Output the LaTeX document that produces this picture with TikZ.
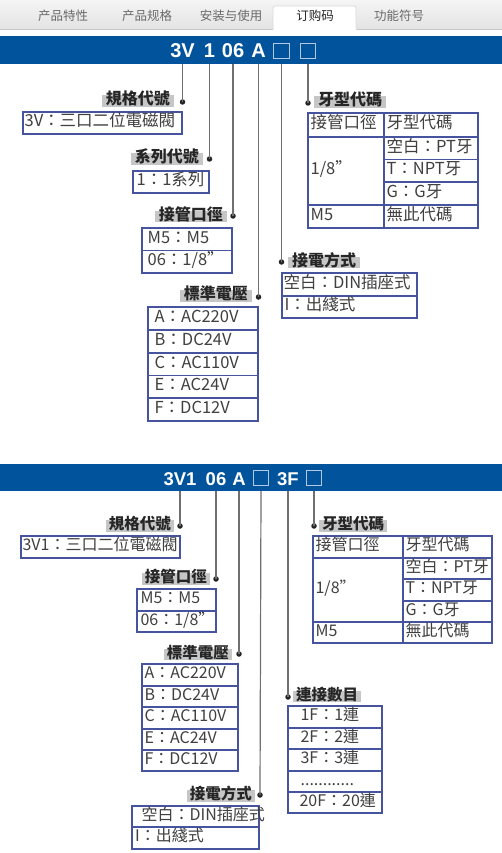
\documentclass[tikz,border=0pt]{standalone}
\usepackage{fontspec}
\setmainfont{Noto Sans CJK TC}
\newfontfamily\scfont{Noto Sans CJK SC}
\newfontfamily\hdrfont{Liberation Sans}
\usetikzlibrary{fit}
\definecolor{barblue}{HTML}{01539C}
\definecolor{cellc}{HTML}{4654A0}
\definecolor{labbg}{HTML}{C6C6C6}
\definecolor{connc}{HTML}{707070}
\definecolor{txt}{HTML}{404040}
\definecolor{sqc}{HTML}{B4C8E2}
\definecolor{tabgray}{HTML}{6A6A6A}
\newcommand\cellat[7]{%
  \node[cellbox, fit={(#2,#3) (#4,#5)}] (#1) {};
  \node[celltext, anchor=west] (#1t) at ([xshift=#6pt]#1.west) {#7};}
\begin{document}
\begin{tikzpicture}[x=1pt,y=-1pt,
  tabtxt/.style={font=\scfont\fontsize{12.5}{14}\selectfont, text=tabgray, inner sep=0},
  hdr/.style={font=\hdrfont\bfseries\fontsize{20}{22}\selectfont, text=white, inner sep=0, anchor=base},
  hdrb/.style={hdr, font=\hdrfont\bfseries\fontsize{18.5}{20}\selectfont},
  sq/.style={draw=sqc, line width=1pt, minimum size=15.5pt, inner sep=0},
  conn/.style={draw=connc, line width=1.2pt},
  dotn/.style={circle, fill=black!85, inner sep=0, minimum size=5.5pt},
  lab/.style={fill=labbg, inner xsep=4pt, inner ysep=0, text height=0.95em, text depth=0.18em,
    font=\bfseries\fontsize{16}{18}\selectfont, text=black!85},
  labb/.style={lab, inner xsep=3pt, font=\bfseries\fontsize{15.5}{17}\selectfont},
  cellbox/.style={draw=cellc, line width=1.2pt, inner sep=0},
  ctbase/.style={inner sep=0, text height=0.88em, text depth=0.12em, text=txt},
  celltext/.style={ctbase, font=\fontsize{16.5}{18}\selectfont}
]
\useasboundingbox (0,0) rectangle (502,853);
\fill[white] (0,0) rectangle (502,853);
% tab strip
\shade[top color=white!96!black, bottom color=white!89!black] (0,0) rectangle (502,29);
\draw[white!78!black, line width=1pt] (0,29.5) -- (502,29.5);
\draw[fill=white, draw=white!85!black, line width=0.8pt, rounded corners=2pt] (273,30) -- (273,6) -- (356,6) -- (356,30);
\fill[white] (273.5,28.5) rectangle (355.5,31);
\node[tabtxt] (tab1) at (63,16) {产品特性};
\node[tabtxt] (tab2) at (147,16) {产品规格};
\node[tabtxt] (tab3) at (231,16) {安装与使用};
\node[tabtxt, text=black!85] (tab4) at (315,16) {订购码};
\node[tabtxt] (tab5) at (399,16) {功能符号};

% ================= section 1 =================
\node[fill=barblue, inner sep=0, fit={(0,36) (502,64)}] (bar1) {};
\node[hdr] (h1a) at (182.5,57.7) {3V};
\node[hdr] (h1b) at (209.5,57.7) {1};
\node[hdr] (h1c) at (233,57.7) {06};
\node[hdr] (h1d) at (258.5,57.7) {A};
\node[sq] (h1e) at (281.5,51) {};
\node[sq] (h1f) at (308,51) {};

\node[dotn] (d11) at (182.5,102) {};
\node[dotn] (d12) at (209.5,159) {};
\node[dotn] (d13) at (233,216) {};
\node[dotn] (d14) at (258.5,297) {};
\node[dotn] (d15) at (281.5,262) {};
\node[dotn] (d16) at (308,103) {};
\draw[conn] (h1a |- bar1.south) -- (d11.center);
\draw[conn] (h1b |- bar1.south) -- (d12.center);
\draw[conn] (h1c |- bar1.south) -- (d13.center);
\draw[conn] (h1d |- bar1.south) -- (d14.center);
\draw[conn] (h1e |- bar1.south) -- (d15.center);
\draw[conn] (h1f |- bar1.south) -- (d16.center);

\node[lab, anchor=east] (l11) at (174,101) {規格代號};
\node[lab, anchor=east] (l12) at (203,159) {系列代號};
\node[lab, anchor=east] (l13) at (227,216.5) {接管口徑};
\node[lab, anchor=east] (l14) at (252,296) {標準電壓};
\node[lab, anchor=west] (l15) at (288,262.5) {接電方式};
\node[lab, anchor=west] (l16) at (314,102) {牙型代碼};

\cellat{a1}{23}{112}{182}{134}{2}{3V：三口二位電磁閥}
\cellat{a2}{133}{171}{209}{193}{4}{1：1系列}
\cellat{a3r1}{142}{228}{232}{250.5}{6}{M5：M5}
\cellat{a3r2}{142}{250.5}{232}{273}{6}{06：1/8"}
\cellat{a4r1}{148}{307}{258}{330}{7}{A：AC220V}
\cellat{a4r2}{148}{330}{258}{353}{7}{B：DC24V}
\cellat{a4r3}{148}{353}{258}{375.5}{7}{C：AC110V}
\cellat{a4r4}{148}{375.5}{258}{398}{7}{E：AC24V}
\cellat{a4r5}{148}{398}{258}{421}{7}{F：DC12V}
\cellat{a5r1}{282}{273}{417}{296}{2}{空白：DIN插座式}
\cellat{a5r2}{282}{296}{417}{318}{3}{I：出綫式}
\cellat{a6h1}{308}{113}{384}{137}{3}{接管口徑}
\cellat{a6h2}{384}{113}{478}{137}{3}{牙型代碼}
\cellat{a6m}{308}{137}{384}{205}{3}{1/8"}
\cellat{a6r1}{384}{137}{478}{159.5}{3}{空白：PT牙}
\cellat{a6r2}{384}{159.5}{478}{182}{3}{T：NPT牙}
\cellat{a6r3}{384}{182}{478}{205}{3}{G：G牙}
\cellat{a6b1}{308}{205}{384}{228}{3}{M5}
\cellat{a6b2}{384}{205}{478}{228}{3}{無此代碼}

% ================= section 2 =================
\begin{scope}[celltext/.style={ctbase, font=\fontsize{16}{18}\selectfont}]
\node[fill=barblue, inner sep=0, fit={(0,464) (502,491)}] (bar2) {};
\node[hdrb] (h2a) at (180,485) {3V1};
\node[hdrb] (h2b) at (216,485) {06};
\node[hdrb] (h2c) at (239,485) {A};
\node[sq, minimum size=15pt] (h2d) at (261,477.5) {};
\node[hdrb] (h2e) at (288,485) {3F};
\node[sq, minimum size=15pt] (h2f) at (314,477.5) {};

\node[dotn] (d21) at (180,526) {};
\node[dotn] (d22) at (216,579) {};
\node[dotn] (d23) at (239,654) {};
\node[dotn] (d24) at (260,795) {};
\node[dotn] (d25) at (288,697) {};
\node[dotn] (d26) at (314,526) {};
\draw[conn] (h2a |- bar2.south) -- (d21.center);
\draw[conn] (h2b |- bar2.south) -- (d22.center);
\draw[conn] (h2c |- bar2.south) -- (d23.center);
\draw[conn] (h2d |- bar2.south) -- (d24.center);
\draw[conn] (h2e |- bar2.south) -- (d25.center);
\draw[conn] (h2f |- bar2.south) -- (d26.center);

\node[labb, anchor=east] (l21) at (174,526) {規格代號};
\node[labb, anchor=east] (l22) at (210,579) {接管口徑};
\node[labb, anchor=east] (l23) at (232,654.5) {標準電壓};
\node[labb, anchor=east] (l24) at (255,796) {接電方式};
\node[labb, anchor=west] (l25) at (293,696.5) {連接數目};
\node[labb, anchor=west] (l26) at (319,526) {牙型代碼};

\cellat{b1}{21}{536}{180}{558}{2}{3V1：三口二位電磁閥}
\cellat{b2r1}{137}{589}{216}{611}{4}{M5：M5}
\cellat{b2r2}{137}{611}{216}{632}{4}{06：1/8"}
\cellat{b3r1}{142}{664}{238}{686}{3}{A：AC220V}
\cellat{b3r2}{142}{686}{238}{707}{3}{B：DC24V}
\cellat{b3r3}{142}{707}{238}{729}{3}{C：AC110V}
\cellat{b3r4}{142}{729}{238}{750}{3}{E：AC24V}
\cellat{b3r5}{142}{750}{238}{771}{3}{F：DC12V}
\cellat{b4r1}{132}{806}{259}{827}{10}{空白：DIN插座式}
\cellat{b4r2}{132}{827}{259}{849}{3.5}{I：出綫式}
\cellat{b5r1}{288}{706}{382}{728}{13}{1F：1連}
\cellat{b5r2}{288}{728}{382}{749}{13}{2F：2連}
\cellat{b5r3}{288}{749}{382}{771}{13}{3F：3連}
\cellat{b5r4}{288}{771}{382}{792}{13}{............}
\cellat{b5r5}{288}{792}{382}{813}{12}{20F：20連}
\cellat{b6h1}{313}{536}{403}{558}{3}{接管口徑}
\cellat{b6h2}{403}{536}{492}{558}{3}{牙型代碼}
\cellat{b6m}{313}{558}{403}{622}{3}{1/8"}
\cellat{b6r1}{403}{558}{492}{579}{3}{空白：PT牙}
\cellat{b6r2}{403}{579}{492}{601}{3}{T：NPT牙}
\cellat{b6r3}{403}{601}{492}{622}{3}{G：G牙}
\cellat{b6b1}{313}{622}{403}{643}{3}{M5}
\cellat{b6b2}{403}{622}{492}{643}{3}{無此代碼}
\end{scope}
\end{tikzpicture}
\end{document}
